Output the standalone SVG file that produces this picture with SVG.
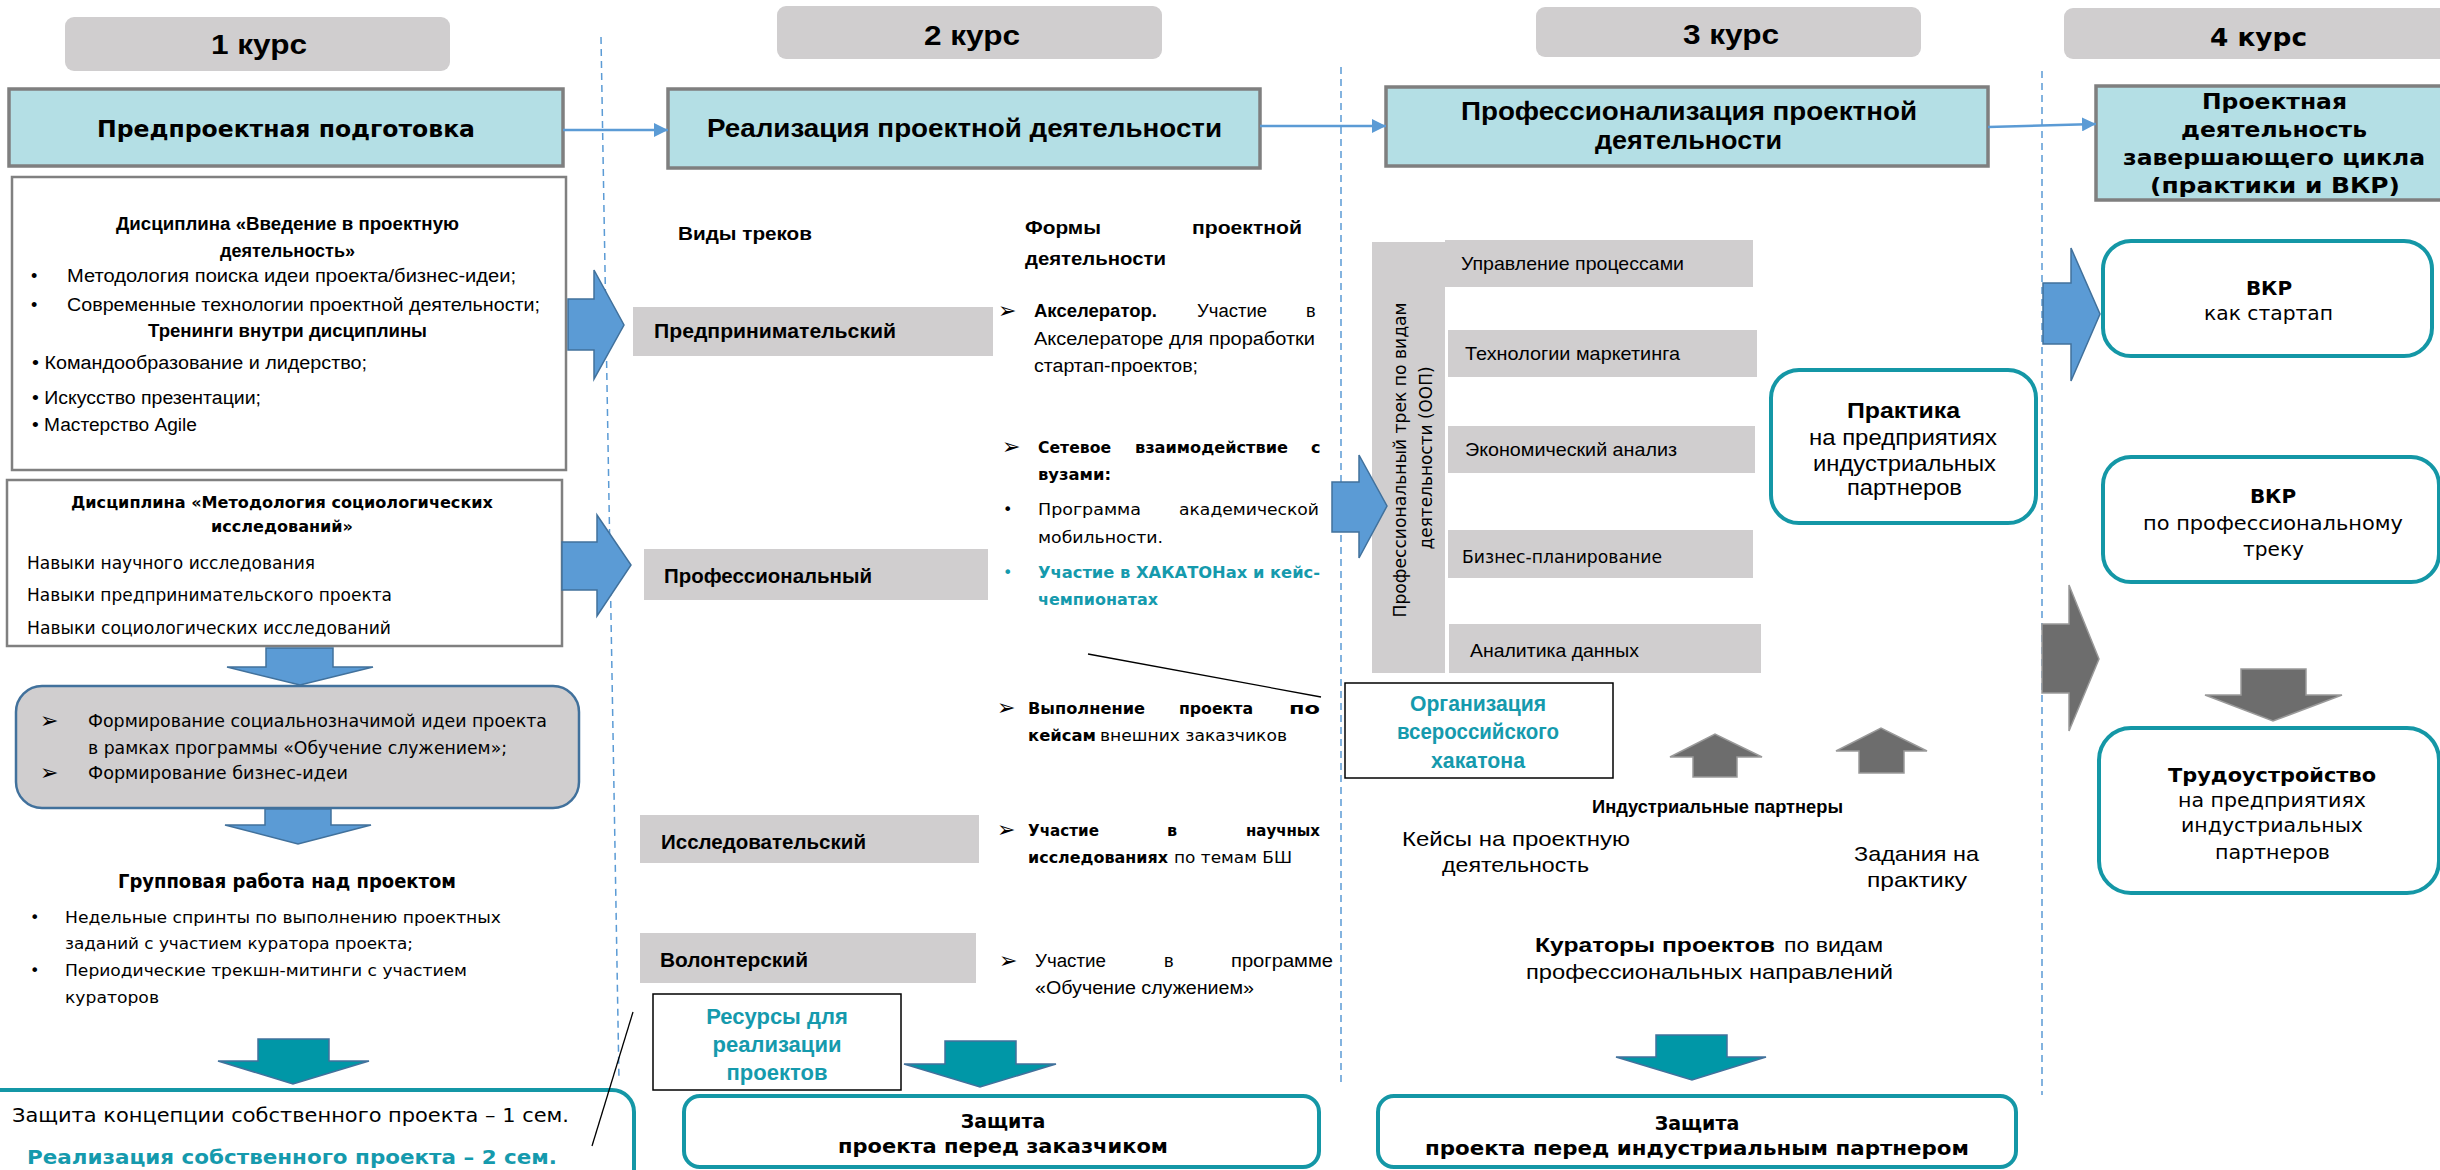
<svg xmlns="http://www.w3.org/2000/svg" width="2440" height="1170" viewBox="0 0 2440 1170">
<defs>
<marker id="ah" viewBox="0 0 10 10" refX="10" refY="5" markerWidth="14" markerHeight="14" markerUnits="userSpaceOnUse" orient="auto"><path d="M0,0 L10,5 L0,10 z" fill="#5B9BD5"/></marker>
</defs>
<style>
text{fill:#000}
.c{font-family:"Liberation Sans",Arial,sans-serif}
.v{font-family:"DejaVu Sans",Verdana,sans-serif}
.b{font-weight:bold}
.m{text-anchor:middle}
.t{fill:#159AAD}
.ar{font-family:"DejaVu Sans",sans-serif;font-size:22px}
.hdr{fill:#D0CECF}
.ttl{fill:#B4DFE5;stroke:#7F7F7F;stroke-width:3.5}
.wbox{fill:#fff;stroke:#808080;stroke-width:2.5}
.trk{fill:#D0CECF}
.tb{fill:#fff;stroke:#1497A6;stroke-width:4}
.kb{fill:#fff;stroke:#000;stroke-width:1.5}
.ba{fill:#5B9BD5;stroke:#41719C;stroke-width:1.5}
.ta{fill:#0097A7;stroke:#41719C;stroke-width:1.5}
.ga{fill:#6D6D6D;stroke:#9a9a9a;stroke-width:1.5}
.ln{stroke:#5B9BD5;stroke-width:2.5;fill:none}
.dash{stroke:#5B9BD5;stroke-width:1.5;stroke-dasharray:7,5;fill:none}
.thin{stroke:#000;stroke-width:1.3;fill:none}
</style>
<rect width="2440" height="1170" fill="#fff"/>

<g id="separators">
<line class="dash" x1="601" y1="37" x2="619" y2="1080"/>
<line class="dash" x1="1341" y1="67" x2="1341" y2="1087"/>
<line class="dash" x1="2042" y1="71" x2="2042" y2="1095"/>
</g>

<g id="headers">
<g id="h1"><rect class="hdr" x="65" y="17" width="385" height="54" rx="9"/><text class="c b" x="211" y="54" font-size="27" textLength="96" lengthAdjust="spacingAndGlyphs">1 курс</text></g>
<g id="h2"><rect class="hdr" x="777" y="6" width="385" height="53" rx="9"/><text class="c b" x="924" y="45" font-size="27" textLength="96" lengthAdjust="spacingAndGlyphs">2 курс</text></g>
<g id="h3"><rect class="hdr" x="1536" y="7" width="385" height="50" rx="9"/><text class="c b" x="1683" y="44" font-size="27" textLength="96" lengthAdjust="spacingAndGlyphs">3 курс</text></g>
<g id="h4"><rect class="hdr" x="2064" y="8" width="400" height="51" rx="9"/><text class="v b" x="2210" y="46" font-size="24" textLength="97" lengthAdjust="spacingAndGlyphs">4 курс</text></g>
</g>

<g id="title1"><rect class="ttl" x="9" y="89" width="554" height="77"/><text class="v b" x="97" y="137" font-size="23" textLength="378" lengthAdjust="spacingAndGlyphs">Предпроектная подготовка</text></g>
<g id="title2"><rect class="ttl" x="668" y="89" width="592" height="79"/><text class="c b" x="707" y="137" font-size="26" textLength="515" lengthAdjust="spacingAndGlyphs">Реализация проектной деятельности</text></g>
<g id="title3"><rect class="ttl" x="1386" y="87" width="602" height="79"/>
<text class="c b" x="1461" y="120" font-size="26" textLength="456" lengthAdjust="spacingAndGlyphs">Профессионализация проектной</text>
<text class="c b" x="1595" y="149" font-size="26" textLength="187" lengthAdjust="spacingAndGlyphs">деятельности</text></g>
<g id="title4"><rect class="ttl" x="2096" y="86" width="370" height="114"/>
<text class="v b" x="2202" y="109" font-size="22" textLength="145" lengthAdjust="spacingAndGlyphs">Проектная</text>
<text class="v b" x="2181" y="137" font-size="22" textLength="186" lengthAdjust="spacingAndGlyphs">деятельность</text>
<text class="v b" x="2123" y="165" font-size="22" textLength="302" lengthAdjust="spacingAndGlyphs">завершающего цикла</text>
<text class="v b" x="2150" y="193" font-size="22" textLength="250" lengthAdjust="spacingAndGlyphs">(практики  и ВКР)</text></g>

<g id="box-intro"><rect class="wbox" x="12" y="177" width="554" height="293"/>
<text class="c b" x="116" y="230" font-size="18" textLength="343" lengthAdjust="spacingAndGlyphs">Дисциплина «Введение в проектную</text>
<text class="c b" x="220" y="257" font-size="18" textLength="135" lengthAdjust="spacingAndGlyphs">деятельность»</text>
<text class="c" x="31" y="282" font-size="18">•</text>
<text class="c" x="67" y="282" font-size="18" textLength="449" lengthAdjust="spacingAndGlyphs">Методология поиска идеи проекта/бизнес-идеи;</text>
<text class="c" x="31" y="311" font-size="18">•</text>
<text class="c" x="67" y="311" font-size="18" textLength="473" lengthAdjust="spacingAndGlyphs">Современные технологии проектной деятельности;</text>
<text class="c b" x="148" y="337" font-size="18" textLength="279" lengthAdjust="spacingAndGlyphs">Тренинги внутри дисциплины</text>
<text class="c" x="32" y="369" font-size="18" textLength="335" lengthAdjust="spacingAndGlyphs">• Командообразование и лидерство;</text>
<text class="c" x="32" y="404" font-size="18" textLength="229" lengthAdjust="spacingAndGlyphs">• Искусство презентации;</text>
<text class="c" x="32" y="431" font-size="18" textLength="165" lengthAdjust="spacingAndGlyphs">• Мастерство Agile</text></g>

<g id="box-method"><rect class="wbox" x="7" y="480" width="555" height="166"/>
<text class="v b" x="71" y="508" font-size="16" textLength="422" lengthAdjust="spacingAndGlyphs">Дисциплина «Методология социологических</text>
<text class="v b" x="211" y="532" font-size="16" textLength="142" lengthAdjust="spacingAndGlyphs">исследований»</text>
<text class="v" x="27" y="569" font-size="17" textLength="288" lengthAdjust="spacingAndGlyphs">Навыки научного исследования</text>
<text class="v" x="27" y="601" font-size="17" textLength="365" lengthAdjust="spacingAndGlyphs">Навыки предпринимательского проекта</text>
<text class="v" x="27" y="634" font-size="17" textLength="364" lengthAdjust="spacingAndGlyphs">Навыки социологических исследований</text></g>

<g id="box-idea"><rect x="16" y="686" width="563" height="122" rx="26" fill="#D0CECF" stroke="#41719C" stroke-width="2.5"/>
<text class="ar" x="40" y="728">➢</text>
<text class="v" x="88" y="727" font-size="17" textLength="459" lengthAdjust="spacingAndGlyphs">Формирование социальнозначимой идеи проекта</text>
<text class="v" x="88" y="754" font-size="17" textLength="419" lengthAdjust="spacingAndGlyphs">в рамках программы «Обучение служением»;</text>
<text class="ar" x="40" y="780">➢</text>
<text class="v" x="88" y="779" font-size="17" textLength="260" lengthAdjust="spacingAndGlyphs">Формирование бизнес-идеи</text></g>

<g id="group-work">
<text class="v b" x="118" y="888" font-size="19" textLength="338" lengthAdjust="spacingAndGlyphs">Групповая работа над проектом</text>
<text class="v" x="30" y="923" font-size="16">•</text>
<text class="v" x="65" y="923" font-size="16" textLength="436" lengthAdjust="spacingAndGlyphs">Недельные спринты по выполнению проектных</text>
<text class="v" x="65" y="949" font-size="16" textLength="348" lengthAdjust="spacingAndGlyphs">заданий с участием куратора проекта;</text>
<text class="v" x="30" y="976" font-size="16">•</text>
<text class="v" x="65" y="976" font-size="16" textLength="402" lengthAdjust="spacingAndGlyphs">Периодические трекшн-митинги с участием</text>
<text class="v" x="65" y="1003" font-size="16" textLength="94" lengthAdjust="spacingAndGlyphs">кураторов</text></g>

<g id="defense1"><rect class="tb" x="-20" y="1090" width="654" height="110" rx="22"/>
<text class="v" x="12" y="1122" font-size="20" textLength="557" lengthAdjust="spacingAndGlyphs">Защита концепции собственного проекта – 1 сем.</text>
<text class="v b t" x="27" y="1164" font-size="20" textLength="530" lengthAdjust="spacingAndGlyphs">Реализация собственного проекта – 2 сем.</text></g>

<g id="col2-heads">
<text class="c b" x="678" y="240" font-size="19" textLength="134" lengthAdjust="spacingAndGlyphs">Виды треков</text>
<text class="c b" x="1025" y="234" font-size="19" textLength="76" lengthAdjust="spacingAndGlyphs">Формы</text>
<text class="c b" x="1192" y="234" font-size="19" textLength="110" lengthAdjust="spacingAndGlyphs">проектной</text>
<text class="c b" x="1025" y="265" font-size="19" textLength="141" lengthAdjust="spacingAndGlyphs">деятельности</text></g>

<g id="track-entre"><rect class="trk" x="633" y="307" width="360" height="49"/><text class="c b" x="654" y="338" font-size="21" textLength="242" lengthAdjust="spacingAndGlyphs">Предпринимательский</text></g>
<g id="track-prof"><rect class="trk" x="644" y="549" width="344" height="51"/><text class="c b" x="664" y="583" font-size="21" textLength="208" lengthAdjust="spacingAndGlyphs">Профессиональный</text></g>
<g id="track-research"><rect class="trk" x="640" y="815" width="339" height="48"/><text class="c b" x="661" y="849" font-size="21" textLength="205" lengthAdjust="spacingAndGlyphs">Исследовательский</text></g>
<g id="track-volunteer"><rect class="trk" x="640" y="933" width="336" height="50"/><text class="c b" x="660" y="967" font-size="21" textLength="148" lengthAdjust="spacingAndGlyphs">Волонтерский</text></g>

<g id="form-accel">
<text class="ar" x="998" y="318">➢</text>
<text class="c b" x="1034" y="317" font-size="18" textLength="123" lengthAdjust="spacingAndGlyphs">Акселератор.</text>
<text class="c" x="1197" y="317" font-size="18" textLength="70" lengthAdjust="spacingAndGlyphs">Участие</text>
<text class="c" x="1306" y="317" font-size="18">в</text>
<text class="c" x="1034" y="345" font-size="18" textLength="281" lengthAdjust="spacingAndGlyphs">Акселераторе для проработки</text>
<text class="c" x="1034" y="372" font-size="18" textLength="164" lengthAdjust="spacingAndGlyphs">стартап-проектов;</text></g>

<g id="form-network">
<text class="ar" x="1002" y="454">➢</text>
<text class="v b" x="1038" y="453" font-size="16" textLength="73" lengthAdjust="spacingAndGlyphs">Сетевое</text>
<text class="v b" x="1135" y="453" font-size="16" textLength="153" lengthAdjust="spacingAndGlyphs">взаимодействие</text>
<text class="v b" x="1311" y="453" font-size="16">с</text>
<text class="v b" x="1038" y="480" font-size="16" textLength="73" lengthAdjust="spacingAndGlyphs">вузами:</text>
<text class="v" x="1003" y="515" font-size="16">•</text>
<text class="v" x="1038" y="515" font-size="16" textLength="103" lengthAdjust="spacingAndGlyphs">Программа</text>
<text class="v" x="1179" y="515" font-size="16" textLength="140" lengthAdjust="spacingAndGlyphs">академической</text>
<text class="v" x="1038" y="543" font-size="16" textLength="125" lengthAdjust="spacingAndGlyphs">мобильности.</text>
<text class="v t" x="1003" y="578" font-size="16">•</text>
<text class="v b t" x="1038" y="578" font-size="16" textLength="282" lengthAdjust="spacingAndGlyphs">Участие в ХАКАТОНах и кейс-</text>
<text class="v b t" x="1038" y="605" font-size="16" textLength="120" lengthAdjust="spacingAndGlyphs">чемпионатах</text></g>

<g id="form-cases">
<text class="ar" x="997" y="715">➢</text>
<text class="v b" x="1028" y="714" font-size="16" textLength="117" lengthAdjust="spacingAndGlyphs">Выполнение</text>
<text class="v b" x="1179" y="714" font-size="16" textLength="74" lengthAdjust="spacingAndGlyphs">проекта</text>
<text class="v b" x="1289" y="714" font-size="16" textLength="31" lengthAdjust="spacingAndGlyphs">по</text>
<text class="v b" x="1028" y="741" font-size="16" textLength="68" lengthAdjust="spacingAndGlyphs">кейсам</text>
<text class="v" x="1100" y="741" font-size="16" textLength="187" lengthAdjust="spacingAndGlyphs">внешних заказчиков</text></g>

<g id="form-research">
<text class="ar" x="997" y="837">➢</text>
<text class="v b" x="1028" y="836" font-size="16" textLength="71" lengthAdjust="spacingAndGlyphs">Участие</text>
<text class="v b" x="1167" y="836" font-size="16">в</text>
<text class="v b" x="1246" y="836" font-size="16" textLength="74" lengthAdjust="spacingAndGlyphs">научных</text>
<text class="v b" x="1028" y="863" font-size="16" textLength="140" lengthAdjust="spacingAndGlyphs">исследованиях</text>
<text class="v" x="1174" y="863" font-size="16" textLength="118" lengthAdjust="spacingAndGlyphs">по темам БШ</text></g>

<g id="form-volunteer">
<text class="ar" x="999" y="968">➢</text>
<text class="c" x="1035" y="967" font-size="18" textLength="71" lengthAdjust="spacingAndGlyphs">Участие</text>
<text class="c" x="1164" y="967" font-size="18">в</text>
<text class="c" x="1231" y="967" font-size="18" textLength="102" lengthAdjust="spacingAndGlyphs">программе</text>
<text class="c" x="1035" y="994" font-size="18" textLength="219" lengthAdjust="spacingAndGlyphs">«Обучение служением»</text></g>

<g id="resources"><rect class="kb" x="653" y="994" width="248" height="96"/>
<text class="c b t m" x="777" y="1024" font-size="22">Ресурсы для</text>
<text class="c b t m" x="777" y="1052" font-size="22">реализации</text>
<text class="c b t m" x="777" y="1080" font-size="22">проектов</text></g>

<g id="defense2"><rect class="tb" x="684" y="1096" width="635" height="71" rx="16"/>
<text class="v b m" x="1003" y="1128" font-size="19">Защита</text>
<text class="v b" x="838" y="1153" font-size="19" textLength="330" lengthAdjust="spacingAndGlyphs">проекта перед заказчиком</text></g>

<g id="prof-track">
<rect class="trk" x="1372" y="242" width="73" height="431"/>
<text class="v m" transform="translate(1406,460) rotate(-90)" font-size="17" textLength="315" lengthAdjust="spacingAndGlyphs">Профессиональный трек по видам</text>
<text class="v m" transform="translate(1432,458) rotate(-90)" font-size="17" textLength="183" lengthAdjust="spacingAndGlyphs">деятельности (ООП)</text>
<rect class="trk" x="1445" y="240" width="308" height="47"/>
<text class="c" x="1461" y="270" font-size="19" textLength="223" lengthAdjust="spacingAndGlyphs">Управление процессами</text>
<rect class="trk" x="1448" y="330" width="309" height="47"/>
<text class="c" x="1465" y="360" font-size="19" textLength="215" lengthAdjust="spacingAndGlyphs">Технологии маркетинга</text>
<rect class="trk" x="1448" y="426" width="307" height="47"/>
<text class="c" x="1465" y="456" font-size="19" textLength="212" lengthAdjust="spacingAndGlyphs">Экономический анализ</text>
<rect class="trk" x="1448" y="530" width="305" height="48"/>
<text class="v" x="1462" y="563" font-size="17" textLength="200" lengthAdjust="spacingAndGlyphs">Бизнес-планирование</text>
<rect class="trk" x="1449" y="624" width="312" height="49"/>
<text class="c" x="1470" y="657" font-size="19" textLength="169" lengthAdjust="spacingAndGlyphs">Аналитика данных</text></g>

<g id="practice"><rect class="tb" x="1771" y="370" width="265" height="153" rx="28"/>
<text class="c b" x="1847" y="418" font-size="22" textLength="113" lengthAdjust="spacingAndGlyphs">Практика</text>
<text class="c" x="1809" y="445" font-size="22" textLength="188" lengthAdjust="spacingAndGlyphs">на предприятиях</text>
<text class="c" x="1813" y="471" font-size="22" textLength="183" lengthAdjust="spacingAndGlyphs">индустриальных</text>
<text class="c" x="1847" y="495" font-size="22" textLength="115" lengthAdjust="spacingAndGlyphs">партнеров</text></g>

<g id="hackathon"><rect class="kb" x="1345" y="683" width="268" height="95"/>
<text class="c b t" x="1410" y="711" font-size="22" textLength="136" lengthAdjust="spacingAndGlyphs">Организация</text>
<text class="c b t" x="1397" y="739" font-size="22" textLength="162" lengthAdjust="spacingAndGlyphs">всероссийского</text>
<text class="c b t" x="1431" y="768" font-size="22" textLength="94" lengthAdjust="spacingAndGlyphs">хакатона</text></g>

<g id="partners">
<text class="c b" x="1592" y="813" font-size="18" textLength="251" lengthAdjust="spacingAndGlyphs">Индустриальные партнеры</text>
<text class="c" x="1402" y="846" font-size="21" textLength="228" lengthAdjust="spacingAndGlyphs">Кейсы на проектную</text>
<text class="c" x="1442" y="872" font-size="21" textLength="147" lengthAdjust="spacingAndGlyphs">деятельность</text>
<text class="c" x="1854" y="861" font-size="21" textLength="125" lengthAdjust="spacingAndGlyphs">Задания на</text>
<text class="c" x="1867" y="887" font-size="21" textLength="100" lengthAdjust="spacingAndGlyphs">практику</text></g>

<g id="curators">
<text class="c b" x="1535" y="952" font-size="21" textLength="240" lengthAdjust="spacingAndGlyphs">Кураторы проектов</text>
<text class="c" x="1784" y="952" font-size="21" textLength="99" lengthAdjust="spacingAndGlyphs">по видам</text>
<text class="c" x="1526" y="979" font-size="21" textLength="367" lengthAdjust="spacingAndGlyphs">профессиональных направлений</text></g>

<g id="defense3"><rect class="tb" x="1378" y="1096" width="638" height="71" rx="16"/>
<text class="v b m" x="1697" y="1130" font-size="19">Защита</text>
<text class="v b" x="1425" y="1155" font-size="19" textLength="544" lengthAdjust="spacingAndGlyphs">проекта  перед индустриальным партнером</text></g>

<g id="vkr-startup"><rect class="tb" x="2103" y="241" width="329" height="115" rx="28"/>
<text class="v b m" x="2269" y="295" font-size="20">ВКР</text>
<text class="v" x="2204" y="320" font-size="19" textLength="129" lengthAdjust="spacingAndGlyphs">как стартап</text></g>

<g id="vkr-prof"><rect class="tb" x="2103" y="457" width="336" height="125" rx="28"/>
<text class="v b m" x="2273" y="503" font-size="20">ВКР</text>
<text class="v" x="2143" y="530" font-size="19" textLength="260" lengthAdjust="spacingAndGlyphs">по профессиональному</text>
<text class="v" x="2243" y="556" font-size="19" textLength="61" lengthAdjust="spacingAndGlyphs">треку</text></g>

<g id="employment"><rect class="tb" x="2099" y="728" width="340" height="165" rx="32"/>
<text class="v b" x="2168" y="782" font-size="19" textLength="208" lengthAdjust="spacingAndGlyphs">Трудоустройство</text>
<text class="v" x="2178" y="807" font-size="19" textLength="188" lengthAdjust="spacingAndGlyphs">на предприятиях</text>
<text class="v" x="2181" y="832" font-size="19" textLength="182" lengthAdjust="spacingAndGlyphs">индустриальных</text>
<text class="v" x="2215" y="859" font-size="19" textLength="115" lengthAdjust="spacingAndGlyphs">партнеров</text></g>

<g id="connectors">
<line class="ln" x1="563" y1="130" x2="668" y2="130" marker-end="url(#ah)"/>
<line class="ln" x1="1260" y1="126" x2="1386" y2="126" marker-end="url(#ah)"/>
<line class="ln" x1="1988" y1="127" x2="2096" y2="124" marker-end="url(#ah)"/>
<polygon class="ba" points="568,299 594,299 594,270 624,325 594,379 594,350 568,350"/>
<polygon class="ba" points="562,542 597,542 597,515 631,565 597,616 597,590 562,590"/>
<polygon class="ba" points="1332,482 1359,482 1359,455 1387,506 1359,558 1359,532 1332,532"/>
<polygon class="ba" points="2043,283 2071,283 2071,248 2100,314 2071,381 2071,344 2043,344"/>
<polygon class="ga" points="2042,624 2069,624 2069,585 2099,659 2069,731 2069,693 2042,693"/>
<polygon class="ba" points="266,648 333,648 333,667 373,667 300,685 227,667 266,667"/>
<polygon class="ba" points="265,809 331,809 331,825 371,825 298,844 225,825 265,825"/>
<polygon class="ta" points="258,1039 329,1039 329,1061 369,1061 293,1084 218,1061 258,1061"/>
<polygon class="ta" points="945,1041 1016,1041 1016,1064 1056,1064 980,1087 904,1064 945,1064"/>
<polygon class="ta" points="1656,1035 1727,1035 1727,1057 1766,1057 1692,1080 1616,1057 1656,1057"/>
<polygon class="ga" points="2241,669 2306,669 2306,695 2342,695 2273,721 2205,695 2241,695"/>
<polygon class="ga" points="1693,777 1737,777 1737,757 1762,757 1715,734 1670,757 1693,757"/>
<polygon class="ga" points="1859,773 1904,773 1904,751 1927,751 1881,728 1836,751 1859,751"/>
<line class="thin" x1="1088" y1="654" x2="1321" y2="697"/>
<line class="thin" x1="633" y1="1012" x2="592" y2="1146"/>
</g>
</svg>
